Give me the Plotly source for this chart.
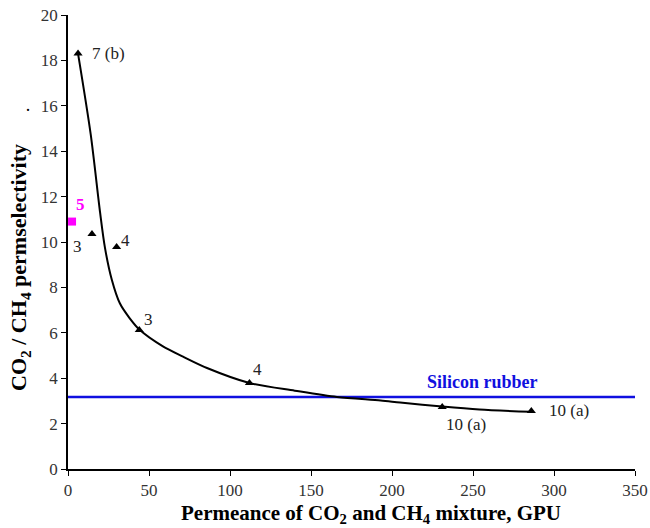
import plotly.graph_objects as go

# Membrane data points (triangles)
pt_x = [6.2, 14.8, 30, 44, 112, 231, 286]
pt_y = [18.3, 10.35, 9.78, 6.12, 3.79, 2.73, 2.55]
pt_labels = ["7 (b)", "3", "4", "3", "4", "10 (a)", "10 (a)"]

# Trend curve
curve_x = [6.2, 14.0, 19.8, 22.8, 27, 32, 38, 44.4, 58.6, 71, 85.8, 112, 140, 166, 193, 205, 231, 254, 286]
curve_y = [18.3, 14.75, 11.3, 9.75, 8.35, 7.3, 6.65, 6.12, 5.4, 4.95, 4.45, 3.79, 3.45, 3.17, 3.02, 2.93, 2.75, 2.62, 2.52]

# Magenta point
sq_x = [2.5]
sq_y = [10.9]

# Silicon rubber reference
silicon_y = 3.17

serif = "Liberation Serif, Times New Roman, serif"

fig = go.Figure()
fig.add_trace(go.Scatter(x=[0, 352], y=[silicon_y, silicon_y], mode="lines",
                         line=dict(color="#1010e0", width=2.5), showlegend=False, cliponaxis=False))
fig.add_trace(go.Scatter(x=curve_x, y=curve_y, mode="lines",
                         line=dict(color="black", width=2, shape="spline", smoothing=0.8), showlegend=False))
fig.add_trace(go.Scatter(x=pt_x, y=pt_y, mode="markers",
                         marker=dict(symbol="triangle-up", size=8, color="black"), showlegend=False))
fig.add_trace(go.Scatter(x=sq_x, y=sq_y, mode="markers",
                         marker=dict(symbol="square", size=8, color="#ff00ff"), showlegend=False, cliponaxis=False))

# label offsets (pixels, right / down) for each point
offs = [(30, 0), (-14, 12), (9, -6), (9, -11), (8, -13), (24, 17), (38, -1)]
for x, y, t, (ax, ay) in zip(pt_x, pt_y, pt_labels, offs):
    fig.add_annotation(x=x, y=y, text=t, showarrow=False, xshift=ax, yshift=-ay,
                       font=dict(family=serif, size=17, color="#222"))
fig.add_annotation(x=sq_x[0], y=sq_y[0], text="<b>5</b>", showarrow=False, xshift=8, yshift=17,
                   font=dict(family=serif, size=17, color="#ff00ff"))
fig.add_annotation(x=255.6, y=silicon_y, text="<b>Silicon rubber</b>", showarrow=False, yshift=15,
                   font=dict(family=serif, size=18, color="#1010e0"))
fig.add_annotation(xref="paper", yref="paper", x=-0.079, y=0.817, text="·", showarrow=False,
                   font=dict(family=serif, size=18, color="black"))

# axis titles
fig.add_annotation(xref="paper", yref="paper", x=0.534, y=-0.099, yanchor="middle",
                   text="<b>Permeance of CO<sub>2</sub> and CH<sub>4</sub> mixture, GPU</b>",
                   showarrow=False, font=dict(family=serif, size=21, color="black"))
fig.add_annotation(xref="paper", yref="paper", x=-0.0847, y=0.445, xanchor="center", textangle=-90,
                   text="<b>CO<sub>2</sub> / CH<sub>4</sub> permselectivity</b>",
                   showarrow=False, font=dict(family=serif, size=22, color="black"))

fig.update_layout(
    width=650, height=528,
    margin=dict(l=68, r=15, t=15, b=59),
    paper_bgcolor="white", plot_bgcolor="white",
    font=dict(family=serif, size=16, color="#333"),
    xaxis=dict(range=[0, 350], tickvals=[0, 50, 100, 150, 200, 250, 300, 350], automargin=False,
               showgrid=False, zeroline=False, showline=True, linecolor="black", linewidth=1.5,
               ticks="outside", ticklen=5, tickcolor="black",
               tickfont=dict(family=serif, size=17, color="#333")),
    yaxis=dict(range=[0, 20], tickvals=list(range(0, 21, 2)), automargin=False,
               showgrid=False, zeroline=False, showline=True, linecolor="black", linewidth=1.5,
               ticks="outside", ticklen=5, tickcolor="black",
               tickfont=dict(family=serif, size=17, color="#333")),
)

fig.write_html("out.html")
